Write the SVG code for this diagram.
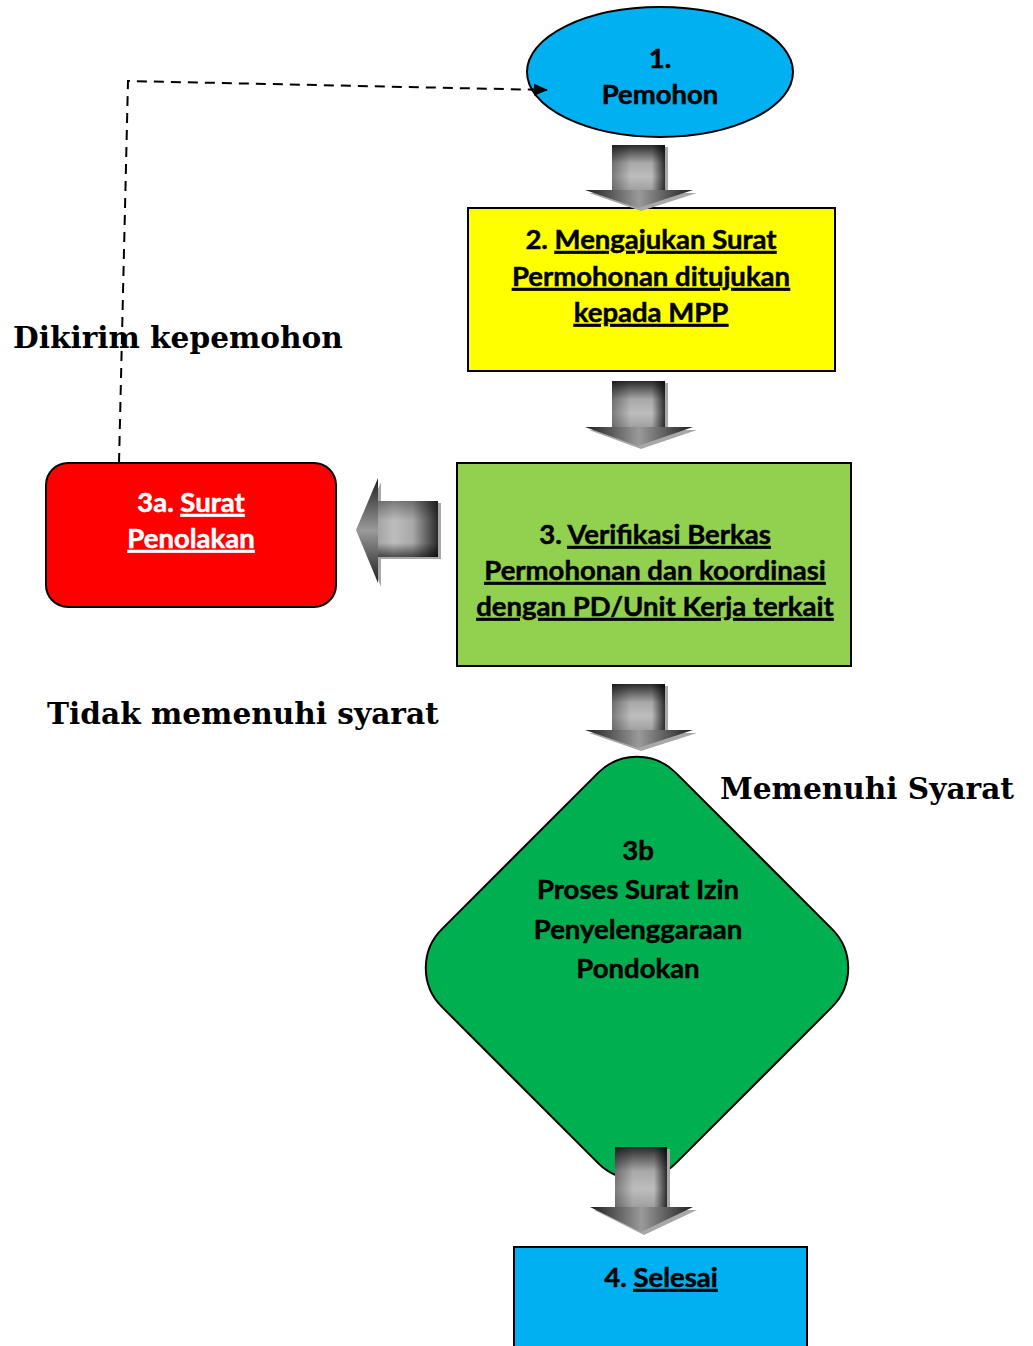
<svg xmlns="http://www.w3.org/2000/svg" width="1033" height="1346" viewBox="0 0 1033 1346">
<defs>
<linearGradient id="gv" x1="0" y1="0" x2="0" y2="1">
<stop offset="0" stop-color="#2a2a2a"/>
<stop offset="0.4" stop-color="#a8a8a8"/>
<stop offset="0.7" stop-color="#bdbdbd"/>
<stop offset="1" stop-color="#a0a0a0"/>
</linearGradient>
<linearGradient id="gh" x1="0" y1="0" x2="1" y2="0">
<stop offset="0" stop-color="#000" stop-opacity="0.35"/>
<stop offset="0.35" stop-color="#000" stop-opacity="0"/>
<stop offset="0.75" stop-color="#000" stop-opacity="0"/>
<stop offset="1" stop-color="#000" stop-opacity="0.75"/>
</linearGradient>
<linearGradient id="gl" x1="1" y1="0" x2="0" y2="0">
<stop offset="0" stop-color="#2a2a2a"/>
<stop offset="0.4" stop-color="#a8a8a8"/>
<stop offset="0.7" stop-color="#bdbdbd"/>
<stop offset="1" stop-color="#a0a0a0"/>
</linearGradient>
<linearGradient id="glv" x1="0" y1="0" x2="0" y2="1">
<stop offset="0" stop-color="#000" stop-opacity="0.35"/>
<stop offset="0.35" stop-color="#000" stop-opacity="0"/>
<stop offset="0.75" stop-color="#000" stop-opacity="0"/>
<stop offset="1" stop-color="#000" stop-opacity="0.6"/>
</linearGradient>
<linearGradient id="ghead" x1="0" y1="0" x2="1" y2="0">
<stop offset="0" stop-color="#1e1e1e"/>
<stop offset="0.5" stop-color="#9a9a9a"/>
<stop offset="1" stop-color="#1e1e1e"/>
</linearGradient>
<linearGradient id="gheadL" x1="0" y1="0" x2="0" y2="1">
<stop offset="0" stop-color="#1e1e1e"/>
<stop offset="0.5" stop-color="#9a9a9a"/>
<stop offset="1" stop-color="#1e1e1e"/>
</linearGradient>
<marker id="ah" markerWidth="14" markerHeight="12" refX="13" refY="6" orient="auto" markerUnits="userSpaceOnUse">
<path d="M0,0 L14,6 L0,12 Z" fill="#000"/>
</marker>
<style>
.t{font-family:"Lato","Open Sans","Liberation Sans",sans-serif;font-weight:bold;font-size:27.5px;text-anchor:middle;fill:#000;stroke:#000;stroke-width:0.5px}
.w{fill:#fff;stroke:#fff}
.u{text-decoration:underline}
.lbl{font-family:"DejaVu Serif","Liberation Serif",serif;font-weight:bold;font-size:29.6px;fill:#000}
.box{stroke:#000;stroke-width:2}
.sh{fill:#a8a8a8}
</style>
</defs>

<g id="n1">
<ellipse cx="660" cy="72" rx="133" ry="65" fill="#00b0f0" class="box"/>
<text class="t" x="660" y="68">1.</text>
<text class="t" x="660" y="104">Pemohon</text>
</g>

<g id="n2">
<rect x="468" y="208" width="367" height="163" fill="#ffff00" class="box"/>
<text class="t" x="651" y="249">2. <tspan class="u">Mengajukan Surat</tspan></text>
<text class="t u" x="651" y="286">Permohonan ditujukan</text>
<text class="t u" x="651" y="322">kepada MPP</text>
</g>

<g id="n3">
<rect x="457" y="463" width="394" height="203" fill="#92d050" class="box"/>
<text class="t" x="655" y="544">3. <tspan class="u">Verifikasi Berkas</tspan></text>
<text class="t u" x="655" y="580">Permohonan dan koordinasi</text>
<text class="t u" x="655" y="616">dengan PD/Unit Kerja terkait</text>
</g>

<g id="n3a">
<rect x="46" y="463" width="290" height="144" rx="22" fill="#ff0000" class="box"/>
<text class="t w" x="191" y="512">3a. <tspan class="u">Surat</tspan></text>
<text class="t w u" x="191" y="548">Penolakan</text>
</g>

<g id="n3b">
<path d="M598.1,772.9 A55,55 0 0 1 675.9,772.9 L832.1,929.1 A55,55 0 0 1 832.1,1006.9 L675.9,1163.1 A55,55 0 0 1 598.1,1163.1 L441.9,1006.9 A55,55 0 0 1 441.9,929.1 Z" fill="#00b050" class="box"/>
<text class="t" x="638" y="860">3b</text>
<text class="t" x="638" y="899">Proses Surat Izin</text>
<text class="t" x="638" y="939">Penyelenggaraan</text>
<text class="t" x="638" y="978">Pondokan</text>
</g>

<g id="n4">
<rect x="514" y="1247" width="293" height="110" fill="#00b0f0" class="box"/>
<text class="t" x="661" y="1287">4. <tspan class="u">Selesai</tspan></text>
</g>

<g id="connectors">
<path d="M119,463 L128,81 L547,90" fill="none" stroke="#000" stroke-width="2" stroke-dasharray="10,7" marker-end="url(#ah)"/>
<g id="arrow1">
<rect x="615" y="147" width="53" height="45" class="sh"/>
<polygon points="589,193 697,193 641,211" class="sh"/>
<rect x="612" y="145" width="53" height="45" fill="url(#gv)"/>
<rect x="612" y="145" width="53" height="45" fill="url(#gh)"/>
<polygon points="585,190 693,190 638,208" fill="url(#ghead)"/>
</g>
<g id="arrow2">
<rect x="615" y="383" width="53" height="46" class="sh"/>
<polygon points="589,430 697,430 641,449" class="sh"/>
<rect x="612" y="381" width="53" height="46" fill="url(#gv)"/>
<rect x="612" y="381" width="53" height="46" fill="url(#gh)"/>
<polygon points="585,427 693,427 638,446" fill="url(#ghead)"/>
</g>
<g id="arrow3">
<rect x="615" y="686" width="53" height="46" class="sh"/>
<polygon points="589,733 697,733 641,751" class="sh"/>
<rect x="612" y="684" width="53" height="46" fill="url(#gv)"/>
<rect x="612" y="684" width="53" height="46" fill="url(#gh)"/>
<polygon points="585,730 693,730 638,748" fill="url(#ghead)"/>
</g>
<g id="arrow4">
<rect x="618" y="1149" width="52" height="60" class="sh"/>
<polygon points="594,1210 697,1210 644,1235" class="sh"/>
<rect x="615" y="1147" width="52" height="60" fill="url(#gv)"/>
<rect x="615" y="1147" width="52" height="60" fill="url(#gh)"/>
<polygon points="590,1207 693,1207 641,1232" fill="url(#ghead)"/>
</g>
<g id="arrowLeft">
<rect x="378" y="503" width="63" height="56" class="sh"/>
<polygon points="381,482 381,587 359,534" class="sh"/>
<rect x="375" y="501" width="63" height="56" fill="url(#gl)"/>
<rect x="375" y="501" width="63" height="56" fill="url(#glv)"/>
<polygon points="378,478 378,583 356,530" fill="url(#gheadL)"/>
</g>
</g>

<g id="labels">
<text class="lbl" x="13" y="348">Dikirim kepemohon</text>
<text class="lbl" x="47" y="724">Tidak memenuhi syarat</text>
<text class="lbl" x="720" y="799">Memenuhi Syarat</text>
</g>
</svg>
